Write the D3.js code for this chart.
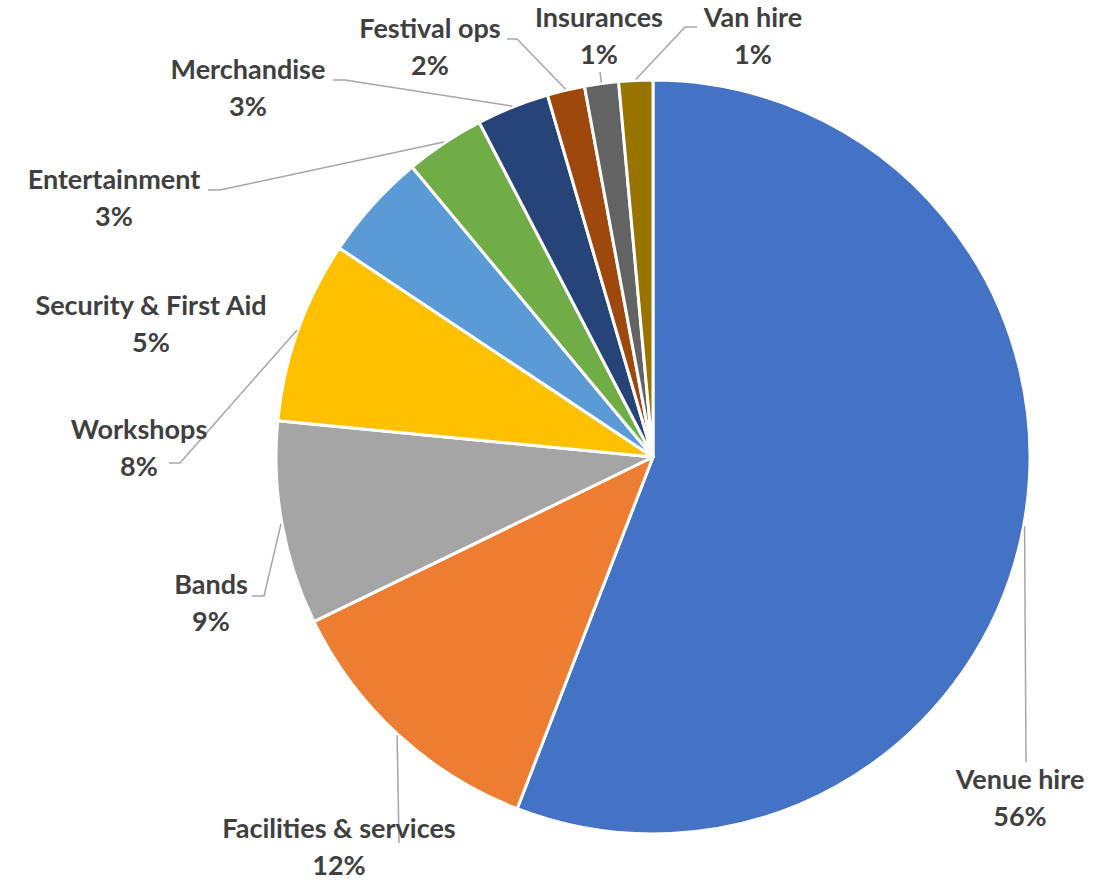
<!DOCTYPE html>
<html>
<head>
<meta charset="utf-8">
<script src="https://cdn.jsdelivr.net/npm/d3@7"></script>
<style>
  html, body { margin: 0; padding: 0; background: #fff; }
  svg { display: block; }
  text { font-family: "Lato", "Open Sans", sans-serif; font-weight: 700; fill: #404040; }
</style>
</head>
<body>
<svg id="chart" width="1097" height="880"></svg>
<script>
// ---- data ----
const categories = ["Venue hire", "Facilities & services", "Bands", "Workshops",
  "Security & First Aid", "Entertainment", "Merchandise", "Festival ops", "Insurances", "Van hire"];
const values = [55.7, 11.9, 8.7, 7.8, 4.6, 3.4, 3.1, 1.6, 1.45, 1.45];
const colors = ["#4472C4", "#ED7D31", "#A5A5A5", "#FFC000", "#5B9BD5",
  "#70AD47", "#264478", "#9E480E", "#636363", "#997300"];

// ---- layout (label placement, leader routing) ----
const cx = 653, cy = 457, R = 377;
const labelLayout = {
  "Venue hire":            { x: 1020, y: 789, leader: [[1026, 762]] },
  "Facilities & services": { x: 339,  y: 838, leader: [[399, 843]] },
  "Bands":                 { x: 211,  y: 594, leader: [[264, 596], [252, 596]] },
  "Workshops":             { x: 139,  y: 439, leader: [[180, 463], [169, 463]] },
  "Security & First Aid":  { x: 151,  y: 315, leader: null },
  "Entertainment":         { x: 114,  y: 189, leader: [[220, 190], [208, 190]] },
  "Merchandise":           { x: 248,  y: 79,  leader: [[345, 80], [333, 80]] },
  "Festival ops":          { x: 430,  y: 38,  leader: [[517, 39], [507, 39]] },
  "Insurances":            { x: 599,  y: 27,  leader: [[600, 72]] },
  "Van hire":              { x: 753,  y: 27,  leader: [[685, 27], [697, 27]] }
};

const svg = d3.select("#chart");
const total = d3.sum(values);
const data = categories.map((c, i) => ({ name: c, value: values[i], color: colors[i] }));

const pie = d3.pie().value(d => d.value).sort(null);
const arcs = pie(data);
const arc = d3.arc().innerRadius(0).outerRadius(R);

const g = svg.append("g").attr("transform", `translate(${cx},${cy})`);
g.selectAll("path.slice").data(arcs).join("path")
  .attr("class", "slice")
  .attr("d", arc)
  .attr("fill", d => d.data.color)
  .attr("stroke", "#fff")
  .attr("stroke-width", 3)
  .attr("stroke-linejoin", "round");

// leader lines
const line = d3.line();
arcs.forEach(a => {
  const L = labelLayout[a.data.name];
  if (!L.leader) return;
  const mid = (a.startAngle + a.endAngle) / 2;
  const start = [cx + (R + 1) * Math.sin(mid), cy - (R + 1) * Math.cos(mid)];
  svg.append("path")
    .attr("d", line([start, ...L.leader]))
    .attr("fill", "none")
    .attr("stroke", "#A6A6A6")
    .attr("stroke-width", 1.5);
});

// labels
const fontSize = 27;
arcs.forEach(a => {
  const L = labelLayout[a.data.name];
  const pct = Math.round(a.data.value / total * 100) + "%";
  const t = svg.append("text")
    .attr("text-anchor", "middle")
    .style("font-size", fontSize + "px");
  t.append("tspan").attr("x", L.x).attr("y", L.y).text(a.data.name);
  t.append("tspan").attr("x", L.x).attr("y", L.y + 37).text(pct);
});
</script>
</body>
</html>
